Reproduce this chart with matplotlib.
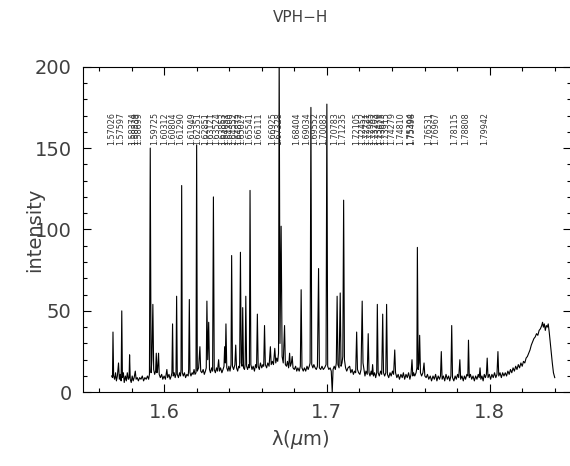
import matplotlib
matplotlib.use("Agg")
import matplotlib.pyplot as plt
from matplotlib.ticker import MultipleLocator

# spectrum (wavelength in micron, intensity)
wave = [
    1.5678, 1.5683, 1.5686, 1.5690, 1.5696, 1.5702, 1.5707, 1.5713, 1.5720, 1.5725,
    1.5731, 1.5736, 1.5740, 1.5744, 1.5750, 1.5755, 1.5762, 1.5768, 1.5774, 1.5780,
    1.5785, 1.5788, 1.5792, 1.5798, 1.5804, 1.5810, 1.5816, 1.5823, 1.5828, 1.5835,
    1.5842, 1.5850, 1.5858, 1.5866, 1.5874, 1.5882, 1.5890, 1.5898, 1.5905, 1.5910,
    1.5915, 1.5920, 1.5925, 1.5931, 1.5936, 1.5942, 1.5948, 1.5952, 1.5956, 1.5960,
    1.5966, 1.5970, 1.5977, 1.5985, 1.5992, 1.6000, 1.6008, 1.6017, 1.6022, 1.6030,
    1.6037, 1.6044, 1.6048, 1.6052, 1.6056, 1.6062, 1.6068, 1.6073, 1.6077, 1.6081,
    1.6088, 1.6095, 1.6101, 1.6104, 1.6108, 1.6112, 1.6118, 1.6125, 1.6132, 1.6140,
    1.6148, 1.6151, 1.6155, 1.6159, 1.6165, 1.6172, 1.6178, 1.6184, 1.6190, 1.6196,
    1.6200, 1.6204, 1.6212, 1.6220, 1.6225, 1.6232, 1.6240, 1.6247, 1.6254, 1.6259,
    1.6263, 1.6268, 1.6274, 1.6279, 1.6285, 1.6292, 1.6298, 1.6303, 1.6308, 1.6315,
    1.6322, 1.6328, 1.6335, 1.6340, 1.6347, 1.6355, 1.6362, 1.6368, 1.6372, 1.6376,
    1.6380, 1.6385, 1.6392, 1.6398, 1.6405, 1.6411, 1.6415, 1.6420, 1.6427, 1.6435,
    1.6440, 1.6445, 1.6452, 1.6458, 1.6464, 1.6469, 1.6474, 1.6479, 1.6483, 1.6488,
    1.6494, 1.6498, 1.6502, 1.6507, 1.6513, 1.6520, 1.6524, 1.6528, 1.6533, 1.6540,
    1.6547, 1.6555, 1.6562, 1.6568, 1.6573, 1.6578, 1.6585, 1.6592, 1.6600, 1.6607,
    1.6612, 1.6617, 1.6622, 1.6630, 1.6637, 1.6645, 1.6653, 1.6658, 1.6665, 1.6672,
    1.6680, 1.6686, 1.6692, 1.6698, 1.6703, 1.6707, 1.6712, 1.6719, 1.6725, 1.6732,
    1.6740, 1.6745, 1.6752, 1.6758, 1.6765, 1.6771, 1.6776, 1.6782, 1.6787, 1.6792,
    1.6800, 1.6808, 1.6815, 1.6822, 1.6830, 1.6837, 1.6842, 1.6847, 1.6855, 1.6862,
    1.6870, 1.6878, 1.6885, 1.6892, 1.6897, 1.6902, 1.6907, 1.6914, 1.6920, 1.6928,
    1.6935, 1.6942, 1.6949, 1.6954, 1.6962, 1.6970, 1.6978, 1.6986, 1.6995, 1.7000,
    1.7005, 1.7012, 1.7020, 1.7027, 1.7033, 1.7038, 1.7045, 1.7052, 1.7058, 1.7063,
    1.7068, 1.7075, 1.7082, 1.7087, 1.7093, 1.7098, 1.7103, 1.7108, 1.7115, 1.7122,
    1.7130, 1.7140, 1.7147, 1.7155, 1.7163, 1.7170, 1.7177, 1.7183, 1.7188, 1.7195,
    1.7203, 1.7210, 1.7217, 1.7222, 1.7228, 1.7234, 1.7240, 1.7248, 1.7254, 1.7259,
    1.7265, 1.7272, 1.7277, 1.7281, 1.7286, 1.7293, 1.7300, 1.7306, 1.7310, 1.7315,
    1.7322, 1.7330, 1.7337, 1.7343, 1.7348, 1.7355, 1.7362, 1.7367, 1.7372, 1.7380,
    1.7388, 1.7395, 1.7403, 1.7410, 1.7417, 1.7422, 1.7430, 1.7438, 1.7446, 1.7455,
    1.7463, 1.7470, 1.7478, 1.7486, 1.7494, 1.7502, 1.7510, 1.7517, 1.7523, 1.7528,
    1.7533, 1.7540, 1.7548, 1.7553, 1.7556, 1.7561, 1.7566, 1.7570, 1.7575, 1.7582,
    1.7590, 1.7597, 1.7602, 1.7610, 1.7618, 1.7626, 1.7635, 1.7643, 1.7652, 1.7660,
    1.7668, 1.7676, 1.7684, 1.7692, 1.7698, 1.7703, 1.7708, 1.7716, 1.7724, 1.7732,
    1.7740, 1.7748, 1.7755, 1.7762, 1.7767, 1.7772, 1.7780, 1.7788, 1.7795, 1.7803,
    1.7810, 1.7817, 1.7822, 1.7830, 1.7838, 1.7845, 1.7852, 1.7860, 1.7866, 1.7870,
    1.7875, 1.7882, 1.7890, 1.7898, 1.7906, 1.7914, 1.7922, 1.7930, 1.7936, 1.7941,
    1.7946, 1.7953, 1.7960, 1.7967, 1.7974, 1.7980, 1.7985, 1.7990, 1.7998, 1.8006,
    1.8014, 1.8022, 1.8030, 1.8038, 1.8045, 1.8051, 1.8056, 1.8064, 1.8072, 1.8080,
    1.8088, 1.8096, 1.8104, 1.8112, 1.8120, 1.8128, 1.8136, 1.8144, 1.8152, 1.8160,
    1.8168, 1.8176, 1.8184, 1.8192, 1.8200, 1.8208, 1.8216, 1.8224, 1.8232, 1.8240,
    1.8248, 1.8256, 1.8264, 1.8272, 1.8280, 1.8288, 1.8296, 1.8304, 1.8312, 1.8320,
    1.8325, 1.8330, 1.8336, 1.8342, 1.8348, 1.8354, 1.8360, 1.8366, 1.8372, 1.8378,
    1.8385, 1.8392, 1.8400,
]
flux = [
    10, 9, 37, 10, 8, 12, 7, 10, 18, 8,
    11, 7, 50, 9, 12, 6, 10, 7, 12, 8,
    9, 23, 8, 6, 10, 7, 9, 13, 8, 9,
    7, 9, 8, 10, 7, 9, 8, 10, 8, 11,
    150, 12, 20, 54, 14, 11, 13, 24, 12, 14,
    24, 11, 9, 11, 8, 10, 8, 14, 9, 11,
    8, 10, 12, 42, 10, 12, 9, 11, 59, 11,
    9, 12, 10, 14, 127, 12, 10, 12, 9, 11,
    10, 14, 57, 12, 10, 12, 11, 14, 11, 12,
    152, 13, 15, 28, 13, 12, 14, 11, 13, 15,
    56, 20, 43, 14, 12, 15, 13, 120, 14, 12,
    15, 13, 20, 13, 15, 12, 14, 16, 28, 18,
    42, 15, 13, 16, 13, 17, 84, 16, 14, 17,
    29, 15, 13, 16, 15, 86, 18, 16, 52, 15,
    14, 17, 59, 16, 14, 17, 15, 124, 17, 14,
    16, 13, 17, 15, 48, 16, 14, 18, 15, 17,
    16, 41, 17, 15, 18, 16, 28, 17, 19, 17,
    27, 18, 21, 19, 24, 210, 30, 102, 22, 18,
    41, 17, 16, 19, 15, 24, 16, 18, 22, 15,
    14, 16, 13, 15, 13, 16, 63, 15, 13, 15,
    13, 16, 14, 16, 18, 175, 17, 15, 17, 15,
    14, 16, 76, 15, 14, 16, 14, 15, 17, 177,
    16, 14, 15, 13, 0, 14, 16, 14, 18, 59,
    17, 15, 61, 16, 18, 22, 118, 20, 15, 13,
    15, 16, 12, 14, 11, 13, 12, 37, 14, 12,
    11, 14, 56, 18, 14, 10, 13, 11, 36, 12,
    10, 13, 11, 17, 10, 12, 9, 12, 54, 12,
    10, 13, 11, 48, 12, 10, 12, 54, 11, 9,
    12, 10, 13, 11, 26, 12, 9, 11, 8, 11,
    9, 12, 8, 11, 9, 12, 8, 11, 20, 10,
    12, 10, 12, 15, 89, 14, 18, 35, 12, 10,
    12, 18, 10, 9, 11, 8, 10, 7, 10, 8,
    11, 7, 10, 8, 10, 25, 8, 10, 7, 11,
    8, 10, 7, 10, 41, 9, 7, 10, 8, 11,
    9, 20, 8, 10, 7, 10, 8, 11, 10, 32,
    9, 11, 8, 10, 7, 10, 8, 11, 9, 15,
    8, 10, 7, 11, 9, 11, 21, 9, 11, 8,
    11, 9, 12, 9, 11, 25, 10, 12, 9, 12,
    10, 12, 10, 13, 11, 14, 12, 15, 13, 16,
    14, 17, 15, 18, 16, 19, 18, 21, 22, 24,
    26, 29, 31, 33, 34, 36, 35, 38, 39, 41,
    43, 40, 42, 38, 41, 40, 42, 37, 31, 25,
    18, 12, 9,
]

# line identifications printed above the spectrum
line_wave = [
    1.57026, 1.57597, 1.58374, 1.58539, 1.58699, 1.59725, 1.60312, 1.60804,
    1.61290, 1.61949, 1.62351, 1.62851, 1.63121, 1.63524, 1.63853, 1.64051,
    1.64300, 1.64552, 1.64872, 1.65027, 1.65541, 1.66111, 1.66925, 1.67328,
    1.68404, 1.69034, 1.69552, 1.70083, 1.70783, 1.71235, 1.72105, 1.72452,
    1.72721, 1.72985, 1.73203, 1.73479, 1.73625, 1.73915, 1.74279, 1.74810,
    1.75394, 1.75498, 1.76531, 1.76967, 1.78115, 1.78808, 1.79942,
]
line_y = 152

txt = '0.25'
fig = plt.figure(figsize=(5.70, 4.66), dpi=100)
ax = fig.add_axes([0.1451, 0.1582, 0.8567, 0.6987])

ax.plot(wave, flux, color='black', linewidth=0.8)

for w in line_wave:
    ax.text(w, line_y, '%.5f' % w, rotation=90, fontsize=5.8, color='0.2',
            ha='right', va='bottom')

ax.set_xlim(1.55, 1.85)
ax.set_ylim(0, 200)
ax.xaxis.set_major_locator(MultipleLocator(0.1))
ax.xaxis.set_minor_locator(MultipleLocator(0.02))
ax.yaxis.set_major_locator(MultipleLocator(50))
ax.yaxis.set_minor_locator(MultipleLocator(10))
ax.tick_params(which='both', direction='in', top=True, right=True,
               labelsize=14, labelcolor=txt, width=0.8)
ax.tick_params(which='major', length=6, pad=8)
ax.tick_params(which='minor', length=3)
for s in ax.spines.values():
    s.set_linewidth(0.8)

ax.set_xlabel('λ($\\mu$m)', fontsize=14, color=txt)
ax.xaxis.set_label_coords(0.445, -0.146)
ax.xaxis.label.set_va('center')
ax.set_ylabel('intensity', fontsize=14, color=txt)
ax.yaxis.set_label_coords(-0.098, 0.498)
ax.yaxis.label.set_va('center')
fig.text(0.528, 0.962, 'VPH−H', fontsize=11, color=txt, ha='center', va='center')

fig.savefig('out.png', dpi=100)
